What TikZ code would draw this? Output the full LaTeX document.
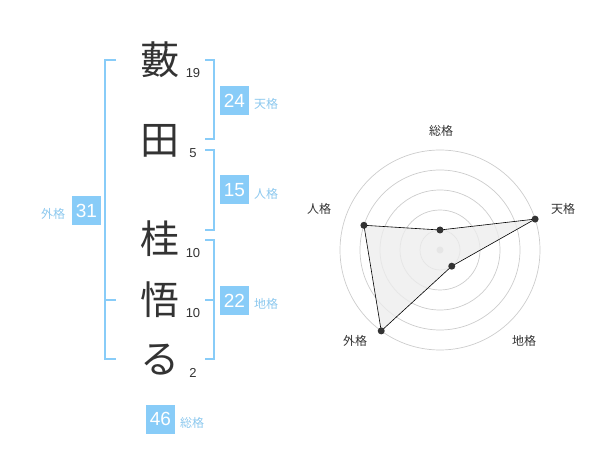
\documentclass[tikz,border=0pt]{standalone}
\usepackage{fontspec}
\usetikzlibrary{calc}
\setmainfont{Noto Sans CJK JP}
\newfontfamily\numfont{Liberation Sans}
\definecolor{boxblue}{HTML}{88CCF8}
\definecolor{brblue}{HTML}{88CCF8}
\definecolor{lblblue}{HTML}{8CC8EE}
\definecolor{darktxt}{HTML}{333333}
\definecolor{gridgray}{HTML}{CCCCCC}
\tikzset{
  kanji/.style={font=\fontsize{39}{39}\selectfont, text=darktxt, inner sep=0pt},
  strokes/.style={font=\numfont\fontsize{13}{13}\selectfont, text=darktxt, inner sep=0pt},
  valbox/.style={fill=boxblue, text=white, font=\numfont\fontsize{19}{19}\selectfont, minimum width=29pt, minimum height=29pt, inner sep=0pt},
  kakulbl/.style={text=lblblue, font=\fontsize{12}{12}\selectfont, inner sep=0pt},
  bracket/.style={draw=brblue, line width=1.6pt},
  radarlbl/.style={text=darktxt, font=\fontsize{12}{12}\selectfont, inner sep=0pt},
  dotpt/.style={circle, fill=darktxt, inner sep=0pt, minimum size=7pt},
}
\begin{document}
\begin{tikzpicture}[x=1pt,y=-1pt]
\useasboundingbox (0,0) rectangle (600,470);
% characters
\node[kanji] (c1) at (160,60) {藪};
\node[kanji] (c2) at (160,141) {田};
\node[kanji] (c3) at (160,239) {桂};
\node[kanji] (c4) at (160,300) {悟};
\node[kanji] (c5) at (160,360) {る};
% stroke counts
\node[strokes] (n1) at (193,73) {19};
\node[strokes] (n2) at (193,153) {5};
\node[strokes] (n3) at (193,253) {10};
\node[strokes] (n4) at (193,313) {10};
\node[strokes] (n5) at (193,373) {2};
% left bracket (gaikaku)
\coordinate (lb1) at (116,60);
\coordinate (lb2) at (105,60);
\coordinate (lb3) at (105,359);
\coordinate (lb4) at (116,359);
\coordinate (lbm) at (105,300);
\coordinate (lbm2) at (116,300);
\draw[bracket] (lb1) -- (lb2) -- (lb3) -- (lb4);
\draw[bracket] (lbm) -- (lbm2);
% right brackets
\coordinate (t1) at (205,60);
\coordinate (t2) at (214,60);
\coordinate (t3) at (214,139);
\coordinate (t4) at (205,139);
\draw[bracket] (t1) -- (t2) -- (t3) -- (t4);
\coordinate (j1) at (205,150);
\coordinate (j2) at (214,150);
\coordinate (j3) at (214,230);
\coordinate (j4) at (205,230);
\draw[bracket] (j1) -- (j2) -- (j3) -- (j4);
\coordinate (d1) at (205,240);
\coordinate (d2) at (214,240);
\coordinate (d3) at (214,359);
\coordinate (d4) at (205,359);
\coordinate (dm) at (205,300);
\coordinate (dm2) at (214,300);
\draw[bracket] (d1) -- (d2) -- (d3) -- (d4);
\draw[bracket] (dm) -- (dm2);
% value boxes
\node[valbox] (b24) at (234.5,100.5) {24};
\node[kakulbl] (l24) at (266,104) {天格};
\node[valbox] (b15) at (234.5,190) {15};
\node[kakulbl] (l15) at (266,194) {人格};
\node[valbox] (b22) at (234.5,300.5) {22};
\node[kakulbl] (l22) at (266,304) {地格};
\node[valbox] (b31) at (86.5,210.5) {31};
\node[kakulbl] (l31) at (53,214) {外格};
\node[valbox] (b46) at (160.5,419) {46};
\node[kakulbl] (l46) at (192,423) {総格};
% radar chart
\coordinate (rc) at (440,250);
\foreach \r in {20,40,60,80,100}
  \draw[gridgray, line width=0.7pt] (rc) circle[radius=\r pt];
\fill[gridgray] (rc) circle[radius=3.5pt];
\coordinate (p1) at ($(rc)+(90:20pt)$);
\coordinate (p2) at ($(rc)+(18:100pt)$);
\coordinate (p3) at ($(rc)+(-54:20pt)$);
\coordinate (p4) at ($(rc)+(-126:100pt)$);
\coordinate (p5) at ($(rc)+(162:80pt)$);
\fill[black!7, opacity=0.8] (p1) -- (p2) -- (p3) -- (p4) -- (p5) -- cycle;
\draw[black, line width=0.6pt] (p1) -- (p2) -- (p3) -- (p4) -- (p5) -- cycle;
\foreach \p in {p1,p2,p3,p4,p5}
  \node[dotpt] (d\p) at (\p) {};
\node[radarlbl] (rl1) at (441,131) {総格};
\node[radarlbl] (rl2) at (563,209) {天格};
\node[radarlbl] (rl3) at (524,341) {地格};
\node[radarlbl] (rl4) at (355,341) {外格};
\node[radarlbl] (rl5) at (319,209) {人格};
\end{tikzpicture}
\end{document}
